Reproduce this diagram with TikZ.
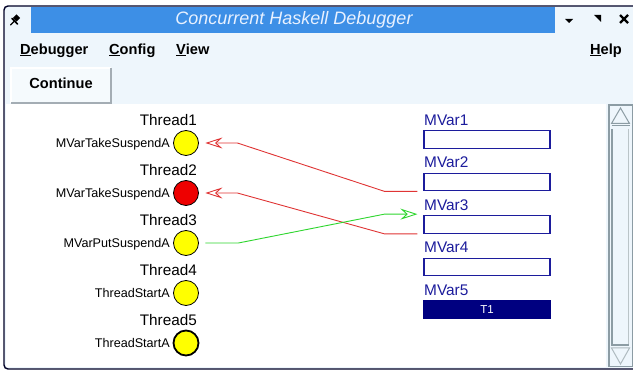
\documentclass[tikz,border=0pt]{standalone}
\usepackage{fontspec}
\setmainfont{Liberation Sans}
\usetikzlibrary{arrows.meta,calc}
\definecolor{winbg}{HTML}{EEF6FC}
\definecolor{titleblue}{HTML}{3D8FE6}
\definecolor{titletext}{HTML}{E8F1FF}
\definecolor{navybox}{HTML}{000080}
\definecolor{navytext}{HTML}{1C1C9C}
\definecolor{scrollgray}{HTML}{8C9CA4}
\definecolor{btnborder}{HTML}{A4ADB4}
\definecolor{redline}{HTML}{E03434}
\definecolor{greenline}{HTML}{2ED62E}
\definecolor{threadred}{HTML}{EE0000}
\definecolor{threadyellow}{HTML}{FFFF00}
\begin{document}
\begin{tikzpicture}[x=1pt,y=-1pt,
  txt/.style={inner sep=0pt, text height=.716em, text depth=0pt},
  menutxt/.style={txt, font=\fontsize{14.6}{17}\selectfont\bfseries},
  thname/.style={txt, anchor=east, font=\fontsize{15.3}{18}\selectfont},
  thstate/.style={txt, anchor=east, font=\fontsize{12.6}{15}\selectfont},
  mvname/.style={txt, anchor=west, text=navytext, font=\fontsize{15.4}{18}\selectfont},
  thread/.style={circle, draw=black, line width=0.8pt, minimum size=25pt, inner sep=0pt},
  mbox/.style={draw=navytext, line width=1.2pt, fill=white, minimum width=126pt, minimum height=17.5pt, inner sep=0pt},
  arrowtip/.style={-{Stealth[open, length=17pt, width=11pt, inset=6pt]}},
  redarr/.style={draw=redline, line width=0.9pt, arrowtip},
  greenarr/.style={draw=greenline, line width=0.9pt, arrowtip}]
\useasboundingbox (0,0) rectangle (633,374);
\fill[white] (0,0) rectangle (633,374);
% window
\fill[winbg, rounded corners=4pt] (4,6) rectangle (640,369);
\draw[black!85!blue, line width=1.4pt, rounded corners=4pt] (640,6) -- (4,6) -- (4,369) -- (640,369);
% title bar
\fill[titleblue] (31,7) rectangle (555,33);
\node[txt, text=titletext, font=\fontsize{18}{21}\selectfont\itshape] (title) at (294,20.5) {Concurrent Haskell Debugger};
% pin icon
\draw[black, line width=1.2pt, line cap=round] (10.5,25) -- (14,21.5);
\fill[black, rotate around={45:(16.5,18)}] (14,15.5) rectangle (19,20.5);
\draw[black, line width=1.6pt, line cap=round] (12,18.5) -- (17.5,24);
% window buttons
\fill[black] (565,19) -- (573,19) -- (569,23) -- cycle;
\fill[black] (594,15) -- (601,15) -- (601,22) -- cycle;
\draw[black, line width=2.2pt] (620,15) -- (628,23) (628,15) -- (620,23);
% menu
\node[menutxt, anchor=west] (mdebug) at (20,50.5) {\underline{D}ebugger};
\node[menutxt, anchor=west] (mconfig) at (109,50.5) {\underline{C}onfig};
\node[menutxt, anchor=west] (mview) at (176,50.5) {\underline{V}iew};
\node[menutxt, anchor=east] (mhelp) at (622,50.5) {\underline{H}elp};
% continue button
\fill[winbg!60!white] (11,68) rectangle (111,103);
\draw[white, line width=1.2pt] (11,103) -- (11,68) -- (111,68);
\draw[btnborder, line width=1.8pt] (11,103) -- (111,103) -- (111,68);
\node[menutxt] (cont) at (61,84.5) {Continue};
% canvas
\fill[white] (6,104) rectangle (606,367);
% scrollbar
\fill[winbg] (608,104) rectangle (633,367);
\draw[scrollgray, line width=1.6pt] (608.8,104.8) rectangle (633,366.5);
\draw[scrollgray, line width=1pt] (620.5,108) -- (611.5,123.5) -- (629.5,123.5) -- cycle;
\draw[scrollgray, line width=1pt] (611.5,126) -- (629.5,126);
\draw[scrollgray, line width=1.6pt] (612,129) -- (612,345) -- (629,345);
\draw[scrollgray!60, line width=1pt] (628.5,129) -- (628.5,344);
\draw[scrollgray!70, line width=1pt] (611.5,348) -- (629.5,348) -- (620.5,364) -- cycle;
% threads
\node[thread, fill=threadyellow] (t1) at (186,143) {};
\node[thread, fill=threadred] (t2) at (186,193) {};
\node[thread, fill=threadyellow] (t3) at (186,243) {};
\node[thread, fill=threadyellow] (t4) at (186,293) {};
\node[thread, fill=threadyellow, line width=1.8pt] (t5) at (186,343) {};
\node[thname] (n1) at (197,121.5) {Thread1};
\node[thname] (n2) at (197,171.5) {Thread2};
\node[thname] (n3) at (197,221.5) {Thread3};
\node[thname] (n4) at (197,271.5) {Thread4};
\node[thname] (n5) at (197,321.5) {Thread5};
\node[thstate] (s1) at (170,143.5) {MVarTakeSuspendA};
\node[thstate] (s2) at (170,193.5) {MVarTakeSuspendA};
\node[thstate] (s3) at (170,243.5) {MVarPutSuspendA};
\node[thstate] (s4) at (170,293.5) {ThreadStartA};
\node[thstate] (s5) at (170,343.5) {ThreadStartA};
% mvars
\node[mvname] (v1) at (424,121.5) {MVar1};
\node[mvname] (v2) at (424,163.5) {MVar2};
\node[mvname] (v3) at (424,206.5) {MVar3};
\node[mvname] (v4) at (424,248.5) {MVar4};
\node[mvname] (v5) at (424,291.5) {MVar5};
\node[mbox] (m1) at (487,139.5) {};
\node[mbox] (m2) at (487,182) {};
\node[mbox] (m3) at (487,224.5) {};
\node[mbox] (m4) at (487,267) {};
\node[mbox, fill=navybox, draw=navybox] (m5) at (487,309.5) {};
\node[txt, text=white, font=\fontsize{11.5}{13}\selectfont] (t1lbl) at (m5.center) {T1};
% connectors
\draw[redarr] ($(m2.south west)+(-6,0)$) -- ++(-33,0) -- ($(t1.east)+(38.5,0)$) -- ($(t1.east)+(6.5,0)$);
\draw[redarr] ($(m3.south west)+(-6,0)$) -- ++(-33,0) -- ($(t2.east)+(38.5,0)$) -- ($(t2.east)+(6.5,0)$);
\draw[greenarr] ($(t3.east)+(6.5,0)$) -- ($(t3.east)+(39.5,0)$) -- ($(m3.north west)+(-39,-1)$) -- ($(m3.north west)+(-6,-1)$);
\end{tikzpicture}
\end{document}
